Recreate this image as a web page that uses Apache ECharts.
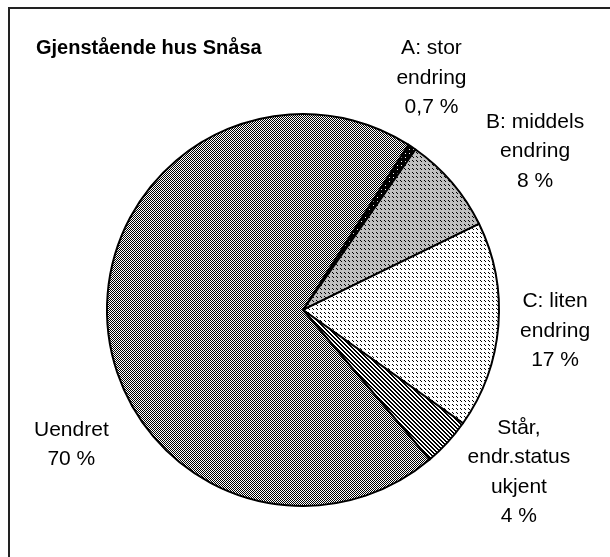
<!DOCTYPE html>
<html><head><meta charset="utf-8">
<script src="https://cdn.jsdelivr.net/npm/echarts@6/dist/echarts.min.js"></script>
<style>html,body{margin:0;padding:0;background:#fff}#c{width:610px;height:557px}</style>
</head><body><div id="c"></div>
<script>
// ---- data ----
const categories = ['A: stor\nendring', 'B: middels\nendring', 'C: liten\nendring', 'Står,\nendr.status\nukjent', 'Uendret'];
const values = [0.7, 8, 17, 4, 70];
const percentLabels = ['0,7 %', '8 %', '17 %', '4 %', '70 %'];
const titleText = 'Gjenstående hus Snåsa';

// ---- styles ----
function pattern(size, bg, fg, fn) {
  const c = document.createElement('canvas');
  c.width = size; c.height = size;
  const g = c.getContext('2d');
  g.fillStyle = bg; g.fillRect(0, 0, size, size);
  g.fillStyle = fg;
  for (let y = 0; y < size; y++) for (let x = 0; x < size; x++) if (fn(x, y)) g.fillRect(x, y, 1, 1);
  return { image: c, repeat: 'repeat' };
}
const fills = [
  pattern(4, '#000000', '#ffffff', (x, y) => x === 1 && y === 1),
  pattern(4, '#c0c0c0', '#000000', (x, y) => (x === 0 && y === 0) || (x === 1 && y === 1)),
  pattern(4, '#ffffff', '#000000', (x, y) => (x === 0 && y === 0) || (x === 1 && y === 1)),
  pattern(4, '#ffffff', '#000000', (x, y) => ((x - y + 8) % 4) < 2),
  pattern(2, '#ffffff', '#000000', (x, y) => (x + y) % 2 === 0)
];
// label placement: [angle clockwise from top (deg), distance from centre (px)]
const labelPolar = [[29, 265], [55.7, 281], [94.8, 253], [126.9, 270], [239.8, 268]];
const centerPct = [49.67, 55.65];
const radiusPx = 196;

const chart = echarts.init(document.getElementById('c'), null, { renderer: 'canvas' });
const font = 'Liberation Sans, Arial, sans-serif';
chart.setOption({
  backgroundColor: '#ffffff',
  animation: false,
  title: { text: titleText, left: 31, top: 33, textStyle: { fontFamily: font, fontSize: 20, fontWeight: 'bold', color: '#000' } },
  graphic: [{ type: 'rect', shape: { x: 9, y: 8, width: 800, height: 800 }, style: { fill: 'none', stroke: '#222', lineWidth: 2 }, silent: true }],
  series: [{
    type: 'pie',
    center: [centerPct[0] + '%', centerPct[1] + '%'],
    radius: [0, radiusPx],
    startAngle: 90 - 32.5,
    clockwise: true,
    avoidLabelOverlap: false,
    data: categories.map((n, i) => ({ name: n, value: values[i], itemStyle: { color: fills[i] } })),
    itemStyle: { borderColor: '#000', borderWidth: 2 },
    label: {
      show: true, position: 'outside', fontFamily: font, fontSize: 21, color: '#000', lineHeight: 29.5,
      formatter: p => categories[p.dataIndex] + '\n' + percentLabels[p.dataIndex]
    },
    labelLine: { show: false },
    labelLayout: function (p) {
      const w = chart.getWidth(), h = chart.getHeight();
      const cx = w * centerPct[0] / 100, cy = h * centerPct[1] / 100;
      const a = labelPolar[p.dataIndex][0] * Math.PI / 180, d = labelPolar[p.dataIndex][1];
      return { x: cx + d * Math.sin(a), y: cy - d * Math.cos(a), align: 'center', verticalAlign: 'middle' };
    },
    emphasis: { disabled: true }
  }]
});
</script></body></html>
